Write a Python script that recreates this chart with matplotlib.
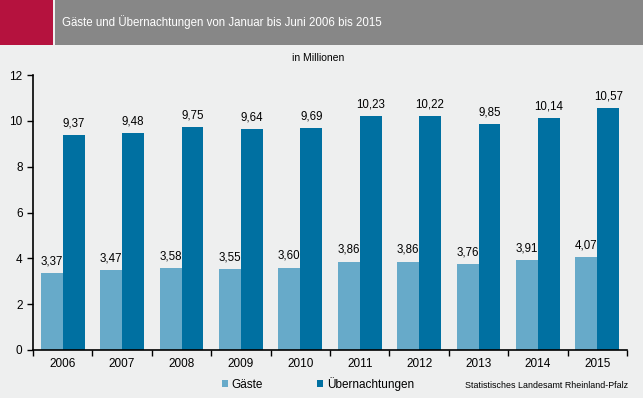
import matplotlib.pyplot as plt
import numpy as np
from matplotlib.patches import Rectangle

plt.rcParams['font.family'] = ['Liberation Sans', 'DejaVu Sans']

jahre = ['2006', '2007', '2008', '2009', '2010', '2011', '2012', '2013', '2014', '2015']
gaeste = [3.37, 3.47, 3.58, 3.55, 3.60, 3.86, 3.86, 3.76, 3.91, 4.07]
uebernachtungen = [9.37, 9.48, 9.75, 9.64, 9.69, 10.23, 10.22, 9.85, 10.14, 10.57]

bg = '#eeefef'
c_gaeste = '#67aac9'
c_ueber = '#0070a1'

W, H = 643, 398
fig = plt.figure(figsize=(W / 100, H / 100), dpi=100, facecolor=bg)

# header band
fig.patches.append(Rectangle((0, 1 - 45 / H), 53 / W, 45 / H, transform=fig.transFigure,
                             facecolor='#b5123e', edgecolor='none', zorder=0))
fig.patches.append(Rectangle((55 / W, 1 - 45 / H), 1 - 55 / W, 45 / H, transform=fig.transFigure,
                             facecolor='#878787', edgecolor='none', zorder=0))
fig.text(62 / W, 1 - 22 / H, 'Gäste und Übernachtungen von Januar bis Juni 2006 bis 2015',
         color='white', fontsize=8.3, va='center', ha='left')

ax = fig.add_axes([33 / W, 48 / H, (627 - 33) / W, (350 - 75) / H])
ax.set_facecolor(bg)

x = np.arange(len(jahre))
bw = 0.37
b1 = ax.bar(x - bw / 2, gaeste, bw, color=c_gaeste, label='Gäste')
b2 = ax.bar(x + bw / 2, uebernachtungen, bw, color=c_ueber, label='Übernachtungen')

for rects, vals in ((b1, gaeste), (b2, uebernachtungen)):
    for r, v in zip(rects, vals):
        ax.annotate(f'{v:.2f}'.replace('.', ','), (r.get_x() + r.get_width() / 2, v),
                    xytext=(0, 4), textcoords='offset points', ha='center', va='bottom',
                    fontsize=8.3)

ax.set_xlim(-0.5, len(jahre) - 0.5)
ax.set_ylim(0, 12)
ax.set_yticks(range(0, 13, 2))
ax.set_xticks(np.arange(len(jahre) + 1) - 0.5, minor=False)
ax.set_xticklabels([])
ax.set_xticks(x, minor=True)
ax.set_xticklabels(jahre, minor=True)
ax.tick_params(axis='x', which='minor', length=0, labelsize=8.5, pad=6)
ax.tick_params(axis='x', which='major', length=4, width=1, direction='out')
ax.tick_params(axis='y', length=4, width=1, labelsize=8.5, direction='out')
for s in ('top', 'right'):
    ax.spines[s].set_visible(False)
for s in ('left', 'bottom'):
    ax.spines[s].set_linewidth(1.2)

fig.text(318 / W, 1 - 58 / H, 'in Millionen', fontsize=7.5, ha='center', va='center')

fig.legend(handles=[b1, b2], loc='center', bbox_to_anchor=(318 / W, 1 - 384 / H), ncol=2,
           frameon=False, fontsize=8.5, handlelength=0.5, handleheight=0.5, handletextpad=0.3,
           columnspacing=4.6)
fig.text(628 / W, 1 - 385 / H, 'Statistisches Landesamt Rheinland-Pfalz', fontsize=6.4,
         ha='right', va='center')

fig.savefig('out.png', dpi=100, facecolor=bg)
